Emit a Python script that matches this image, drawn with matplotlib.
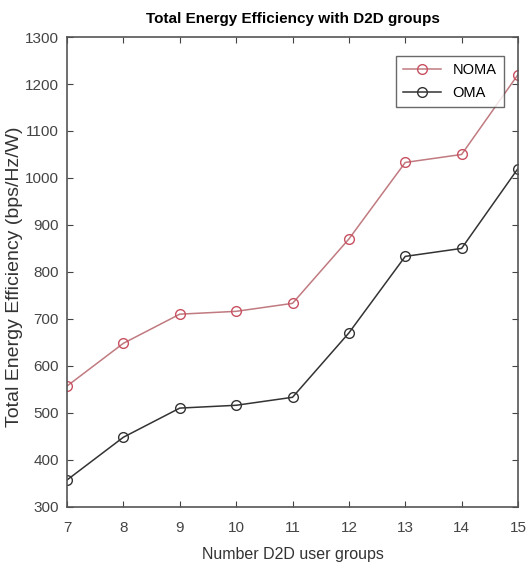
import numpy as np
import matplotlib.pyplot as plt

groups = [7, 8, 9, 10, 11, 12, 13, 14, 15]
noma = [557, 648, 710, 716, 733, 870, 1033, 1050, 1220]
oma = [357, 448, 510, 516, 533, 670, 833, 850, 1020]

plt.rcParams['font.family'] = ['Liberation Sans', 'DejaVu Sans']

fig = plt.figure(figsize=(5.28, 5.70), dpi=100)
ax = fig.add_axes([0.127, 0.111, 0.854, 0.824])

ax.plot(groups, noma, color='#c07a80', marker='o', markersize=7,
        markerfacecolor='none', markeredgecolor='#c85060', lw=1.1, label='NOMA')
ax.plot(groups, oma, color='#333333', marker='o', markersize=7,
        markerfacecolor='none', markeredgecolor='#333333', lw=1.1, label='OMA')

ax.set_xlim(7, 15)
ax.set_ylim(300, 1300)
ax.set_xticks(groups)
ax.set_yticks(np.arange(300, 1301, 100))
ax.tick_params(direction='in', length=4, labelsize=11, colors='#444444',
               top=True, right=True)
ax.tick_params(axis='x', pad=10)
ax.tick_params(axis='y', pad=6)
for s in ax.spines.values():
    s.set_color('#555555')
    s.set_linewidth(1.2)

ax.set_title('Total Energy Efficiency with D2D groups', fontsize=11,
             fontweight='bold', pad=10)
ax.set_xlabel('Number D2D user groups', fontsize=11.5, color='#333333')
ax.xaxis.set_label_coords(0.5, -0.085)
ax.set_ylabel('Total Energy Efficiency (bps/Hz/W)', fontsize=14, color='#333333')
ax.yaxis.set_label_coords(-0.097, 0.49)

leg = ax.legend(loc='upper right', fontsize=10.5, fancybox=False,
                edgecolor='#444444', handlelength=2.6, borderpad=0.5,
                labelspacing=0.6, bbox_to_anchor=(0.985, 0.975))
leg.get_frame().set_linewidth(1.0)

fig.savefig('out.png', dpi=100)
